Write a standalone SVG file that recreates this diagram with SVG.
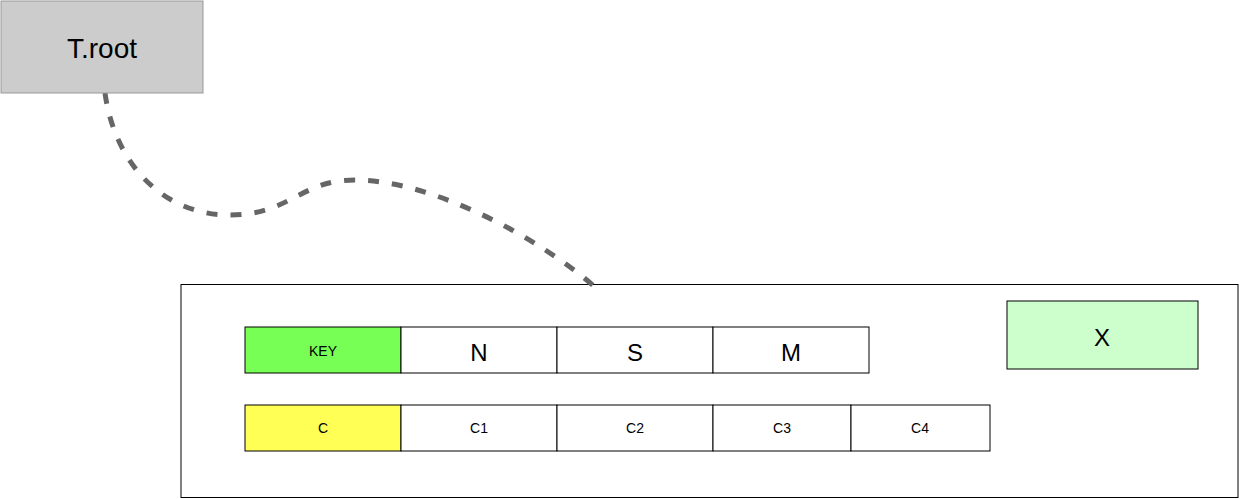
<svg xmlns="http://www.w3.org/2000/svg" width="1241" height="499" viewBox="0 0 1241 499">
<style>
text{font-family:"Liberation Sans",Arial,sans-serif;fill:#000;text-anchor:middle;dominant-baseline:central}
.cell{stroke:#000;stroke-width:1}
.big{font-size:24px}
.small{font-size:14px}
</style>
<rect width="1241" height="499" fill="#fff"/>
<g id="container"><rect x="181" y="284.5" width="1057" height="213" fill="#fff" stroke="#000" stroke-width="1"/></g>
<g id="connectors">
<path d="M105,93 C114,160 160,215 230,215 C290,215 300,180 355,180 C430,180 535,235 595,287" fill="none" stroke="#666" stroke-width="5" stroke-dasharray="11 13"/>
</g>
<g id="troot"><rect x="1" y="1" width="202" height="92" fill="#cccccc" stroke="#999" stroke-width="1"/><text x="102" y="48" font-size="28">T.root</text></g>
<g id="key"><rect class="cell" x="245" y="327" width="156" height="46" fill="#77ff55"/><text class="small" x="323" y="351">KEY</text></g>
<g id="n"><rect class="cell" x="401" y="327" width="156" height="46" fill="#fff"/><text class="big" x="479" y="352">N</text></g>
<g id="s"><rect class="cell" x="557" y="327" width="156" height="46" fill="#fff"/><text class="big" x="635" y="352">S</text></g>
<g id="m"><rect class="cell" x="713" y="327" width="156" height="46" fill="#fff"/><text class="big" x="791" y="352">M</text></g>
<g id="c"><rect class="cell" x="245" y="405" width="156" height="46" fill="#ffff55"/><text class="small" x="323" y="428">C</text></g>
<g id="c1"><rect class="cell" x="401" y="405" width="156" height="46" fill="#fff"/><text class="small" x="479" y="428">C1</text></g>
<g id="c2"><rect class="cell" x="557" y="405" width="156" height="46" fill="#fff"/><text class="small" x="635" y="428">C2</text></g>
<g id="c3"><rect class="cell" x="713" y="405" width="138" height="46" fill="#fff"/><text class="small" x="782" y="428">C3</text></g>
<g id="c4"><rect class="cell" x="851" y="405" width="139" height="46" fill="#fff"/><text class="small" x="920" y="428">C4</text></g>
<g id="x"><rect class="cell" x="1007" y="301" width="191" height="68" fill="#ccffcc"/><text class="big" x="1102" y="337">X</text></g>
</svg>
